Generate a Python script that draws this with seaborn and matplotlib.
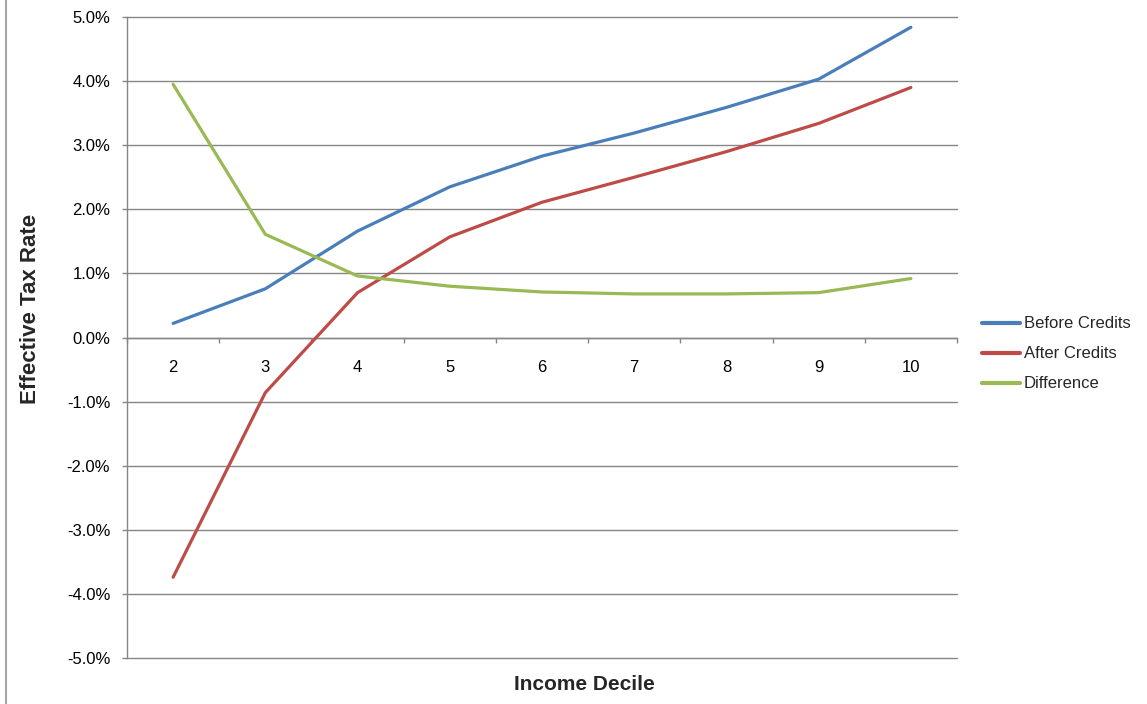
import matplotlib
matplotlib.use("Agg")
import matplotlib.pyplot as plt
from matplotlib.lines import Line2D
from matplotlib.ticker import FuncFormatter, FixedLocator
import seaborn as sns
import pandas as pd

# Effective tax rate (%) by income decile
deciles = ["2", "3", "4", "5", "6", "7", "8", "9", "10"]
before_credits = [0.22, 0.76, 1.66, 2.35, 2.83, 3.19, 3.59, 4.03, 4.84]
after_credits = [-3.74, -0.86, 0.70, 1.57, 2.11, 2.50, 2.90, 3.34, 3.90]
difference = [3.95, 1.61, 0.96, 0.80, 0.71, 0.68, 0.68, 0.70, 0.92]

series_names = ["Before Credits", "After Credits", "Difference"]
series_colors = ["#4A7EBB", "#BE4B48", "#98B954"]

df = pd.DataFrame({
    "decile": deciles * 3,
    "rate": before_credits + after_credits + difference,
    "series": [series_names[0]] * 9 + [series_names[1]] * 9 + [series_names[2]] * 9,
})

sns.set_theme(style="white")
plt.rcParams["font.family"] = ["Liberation Sans", "DejaVu Sans"]

fig = plt.figure(figsize=(11.47, 7.04), dpi=100)
ax = fig.add_axes([127 / 1147, 1 - 658 / 704, (957 - 127) / 1147, (658 - 17) / 704])

sns.lineplot(data=df, x="decile", y="rate", hue="series", hue_order=series_names,
             palette=series_colors, linewidth=2.3, ax=ax, legend=False,
             sort=False, zorder=3)

grid_color = "#868686"
ax.set_ylim(-5, 5)
ax.set_xlim(-0.5, len(deciles) - 0.5)
ax.set_yticks([v for v in range(-5, 6)])
ax.yaxis.set_major_formatter(FuncFormatter(lambda v, p: f"{v:.1f}%"))
ax.grid(axis="y", color=grid_color, linewidth=1.0)
ax.grid(axis="x", visible=False)
ax.set_axisbelow(True)
for gl in ax.get_ygridlines():
    gl.set_clip_on(False)

# Category axis crosses at zero, with tick marks between categories
for side in ["top", "right"]:
    ax.spines[side].set_visible(False)
ax.spines["bottom"].set_position(("data", 0))
ax.spines["bottom"].set_color(grid_color)
ax.spines["left"].set_color(grid_color)
ax.spines["bottom"].set_linewidth(1.0)
ax.spines["left"].set_linewidth(1.0)

ax.set_xticks(range(len(deciles)))
ax.set_xticklabels(deciles)
ax.xaxis.set_minor_locator(FixedLocator([i - 0.5 for i in range(len(deciles) + 1)]))
ax.tick_params(axis="x", which="major", length=0, pad=16, labelsize=12, colors="black")
ax.tick_params(axis="x", which="minor", bottom=True, length=3.6, width=1, color=grid_color)
ax.tick_params(axis="y", which="major", left=True, length=3.6, width=1, color=grid_color,
               pad=8.5, labelsize=12, labelcolor="black")

ax.set_xlabel("")
ax.set_ylabel("")
fig.text(31 / 1147, 1 - 309 / 704, "Effective Tax Rate", rotation=90, ha="center",
         va="center", fontsize=16, fontweight="bold")
fig.text(584 / 1147, 1 - 684 / 704, "Income Decile", ha="center", va="center",
         fontsize=15, fontweight="bold")

handles = [Line2D([0], [0], color=c, linewidth=3) for c in series_colors]
fig.legend(handles, series_names, loc="center left",
           bbox_to_anchor=(982 / 1147, 1 - 354 / 704), frameon=False,
           borderpad=0, borderaxespad=0,
           fontsize=12, handlelength=2.3, handletextpad=0.2, labelspacing=0.9)

# outer chart frame edge
fig.add_artist(Line2D([6 / 1147, 6 / 1147], [0, 1], transform=fig.transFigure,
                      color="#A6A6A6", linewidth=1.5))

fig.savefig("out.png", dpi=100, facecolor="white")
